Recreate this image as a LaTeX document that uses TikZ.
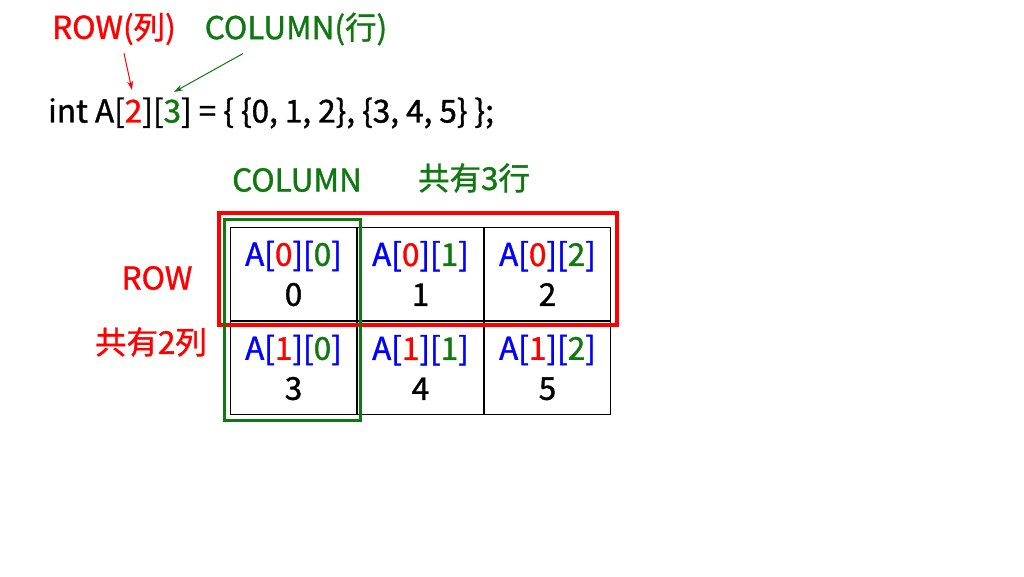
\documentclass[tikz,border=0pt]{standalone}
\usepackage{fontspec}
\setmainfont{Noto Sans CJK TC}[FakeBold=1.2]
\usetikzlibrary{positioning,arrows.meta}
\definecolor{rowred}{RGB}{255,0,0}
\definecolor{colgreen}{RGB}{16,120,16}
\definecolor{idxblue}{RGB}{0,0,255}
\newcommand{\idx}[2]{\textcolor{idxblue}{A[}\textcolor{rowred}{#1}\textcolor{idxblue}{][}\textcolor{colgreen}{#2}\textcolor{idxblue}{]}}
\tikzset{
  lbl/.style={inner sep=0pt, font=\fontsize{31.5}{36}\selectfont},
  cellbox/.style={draw, line width=1pt, minimum width=126pt, minimum height=93pt,
    inner sep=0pt, align=center, font=\fontsize{31.5}{40}\selectfont},
  tip/.style={-{Stealth[length=9pt,width=6pt]}, line width=1pt}
}

\begin{document}
\begin{tikzpicture}[x=1pt, y=-1pt]
  \useasboundingbox (0,0) rectangle (1024,576);

  \node[lbl, text=rowred] (rowtop) at (114,29) {ROW(列)};
  \node[lbl, text=colgreen] (coltop) at (296,29) {COLUMN(行)};

  \node[lbl, anchor=west] (decl) at (48,113)
    {int A[\textcolor{rowred}{2}][\textcolor{colgreen}{3}] = \{ \{0, 1, 2\}, \{3, 4, 5\} \};};
  \coordinate (two) at (132,90);
  \coordinate (three) at (174,92);

  \node[lbl, text=colgreen] (colname) at (297,180) {COLUMN};
  \node[lbl, text=colgreen] (colcount) at (474,178) {共有3行};
  \node[lbl, text=rowred] (rowname) at (157,278) {ROW};
  \node[lbl, text=rowred] (rowcount) at (151,342) {共有2列};

  % the array cells
  \node[cellbox] (c00) at (293.5,273.5) {\idx{0}{0}\\0};
  \node[cellbox, right=0pt of c00] (c01) {\idx{0}{1}\\1};
  \node[cellbox, right=0pt of c01] (c02) {\idx{0}{2}\\2};
  \node[cellbox, below=0pt of c00] (c10) {\idx{1}{0}\\3};
  \node[cellbox, right=0pt of c10] (c11) {\idx{1}{1}\\4};
  \node[cellbox, right=0pt of c11] (c12) {\idx{1}{2}\\5};

  \draw[rowred, line width=4pt] ([shift={(-11pt,14pt)}]c00.north west) rectangle ([shift={(6pt,-4pt)}]c02.south east);
  \draw[colgreen, line width=3pt] ([shift={(-6pt,7pt)}]c00.north west) rectangle ([shift={(3pt,-6pt)}]c10.south east);

  \draw[tip, rowred] ([shift={(10pt,-8pt)}]rowtop.south) -- (two);
  \draw[tip, colgreen] ([shift={(-53pt,-8pt)}]coltop.south) -- (three);
\end{tikzpicture}
\end{document}
